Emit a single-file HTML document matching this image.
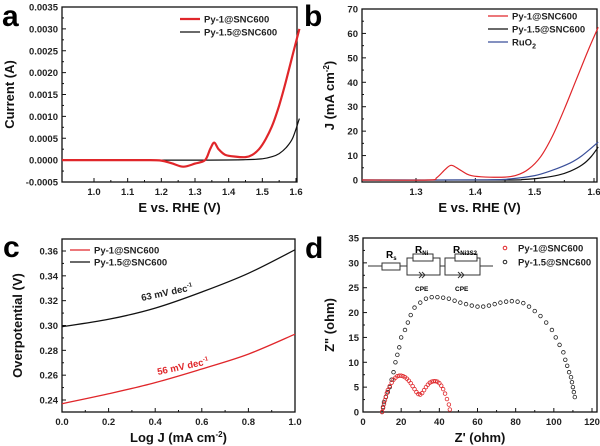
<!DOCTYPE html>
<html><head><meta charset="utf-8"><style>
html,body{margin:0;padding:0;background:#fff}
svg{display:block;font-family:"Liberation Sans",Arial,sans-serif}
.t{font-size:9.5px;font-weight:bold;fill:#222}
.at{font-size:13px;font-weight:bold;fill:#111}
.pl{font-size:30px;font-weight:bold;fill:#000}
.lg{font-size:9.5px;font-weight:bold;fill:#222}
</style></head><body>
<svg id="fig" width="600" height="446" viewBox="0 0 600 446"></svg>
<script>
// ---- Panel a data ----
const aRedE=[0.905,1.15,1.2,1.23,1.265,1.3,1.33,1.345,1.357,1.37,1.39,1.42,1.45,1.47,1.49,1.51,1.53,1.55,1.57,1.59,1.61];
const aRedI=[0,0,-0.00001,-0.00007,-0.00015,-0.00008,0,0.00025,0.0004,0.00025,0.00012,0.00008,0.00007,0.00012,0.00025,0.00048,0.0008,0.00125,0.0018,0.0024,0.003];
const aBlkE=[0.905,1.3,1.45,1.5,1.53,1.55,1.57,1.59,1.61];
const aBlkI=[0,0,0.00001,0.00003,0.00008,0.00015,0.00028,0.0005,0.00095];
// ---- Panel b data ----
const bRedE=[1.209,1.32,1.335,1.35,1.36,1.375,1.39,1.41,1.45,1.47,1.49,1.51,1.53,1.55,1.57,1.59,1.607];
const bRedJ=[0,0,1,4.5,6,4,2,1.3,1.2,2,4.5,9.5,18,29,41,53,62.5];
const bBlkE=[1.209,1.45,1.48,1.51,1.54,1.56,1.58,1.595,1.607];
const bBlkJ=[0,0,0.2,0.8,2,3.6,6.2,9.5,13.5];
const bBluE=[1.209,1.42,1.46,1.5,1.53,1.56,1.58,1.607];
const bBluJ=[0,0.1,0.5,1.8,4,7,10,15.5];
// ---- Panel c data ----
const cLogJ=[0,0.2,0.4,0.6,0.8,1.0];
const cBlk=[0.299,0.305,0.314,0.327,0.342,0.361];
const cRed=[0.237,0.245,0.254,0.265,0.277,0.293];
// ---- Panel d data ----
const dBlkX=[10,10.5,11,12,13,14,15,16,17,18,19,20,22,23.5,25,27,30,33,36,39,42,45,48,51,54,57,60,63,66,69,72,75,78,81,84,87,90,93,96,99,101,103,105,106,107,108,109,109.5,110,110.5,111];
const dBlkY=[0,1,2,3,4,5,6.5,8,10,11.5,13,15,16.5,18,19.5,21,22,22.8,23.1,23.1,23,22.8,22.4,22,21.7,21.4,21.2,21.2,21.4,21.7,22,22.2,22.3,22.2,21.9,21.2,20.3,19.3,18,16.5,15,13.5,12,10.5,9.3,8,7,6,5,4,3];
const dRedX=[10,10.5,11,11.5,12,12.5,13,14,15,16,17,18,19,20,21,22,23,24,25,26,27,28,29,30,31,32,33,34,35,36,37,38,39,40,41,42,43,44,45,45.5];
const dRedY=[0,0.8,1.6,2.4,3.1,3.8,4.4,5.2,5.9,6.5,6.9,7.2,7.3,7.3,7.2,7,6.7,6.3,5.8,5.2,4.6,4,3.6,3.5,3.8,4.4,5,5.5,5.9,6.1,6.2,6.2,6.1,5.8,5.3,4.6,3.7,2.6,1.5,0.5];
const aXT=[1.0,1.1,1.2,1.3,1.4,1.5,1.6],aYT=[-0.0005,0,0.0005,0.001,0.0015,0.002,0.0025,0.003,0.0035];
const aYL=["-0.0005","0.0000","0.0005","0.0010","0.0015","0.0020","0.0025","0.0030","0.0035"];
const bXT=[1.3,1.4,1.5,1.6],bYT=[0,10,20,30,40,50,60,70];
const cXT=[0,0.2,0.4,0.6,0.8,1.0],cYT=[0.24,0.26,0.28,0.30,0.32,0.34,0.36];
const dXT=[0,20,40,60,80,100,120],dYT=[0,5,10,15,20,25,30,35];

const S=document.getElementById('fig'),NS='http://www.w3.org/2000/svg';
function mk(tag,at,txt){const e=document.createElementNS(NS,tag);for(const k in at)e.setAttribute(k,at[k]);if(txt!==undefined)e.textContent=txt;S.appendChild(e);return e;}
function lin(d0,d1,r0,r1){return v=>r0+(v-d0)/(d1-d0)*(r1-r0);}
function path(xs,ys,X,Y){const p=xs.map((v,i)=>[X(v),Y(ys[i])]);let d='M'+p[0][0].toFixed(1)+','+p[0][1].toFixed(1);
  for(let i=0;i<p.length-1;i++){const p0=p[Math.max(i-1,0)],p1=p[i],p2=p[i+1],p3=p[Math.min(i+2,p.length-1)];
    const c1=[p1[0]+(p2[0]-p0[0])/6,p1[1]+(p2[1]-p0[1])/6],c2=[p2[0]-(p3[0]-p1[0])/6,p2[1]-(p3[1]-p1[1])/6];
    d+='C'+c1[0].toFixed(1)+','+c1[1].toFixed(1)+' '+c2[0].toFixed(1)+','+c2[1].toFixed(1)+' '+p2[0].toFixed(1)+','+p2[1].toFixed(1);}
  return d;}
function axes(p,L,T,R,B,X,Y,xt,xl,yt,yl,xtitle,ytitle,ytx){
  let e=mk('rect',{x:L,y:T,width:R-L,height:B-T,fill:'none',stroke:'#111','stroke-width':1.3});
  
  xt.forEach((v,i)=>{const x=X(v);mk('line',{x1:x,x2:x,y1:B,y2:B-4,stroke:'#111'});
    if(i<xt.length-1){const xm=(x+X(xt[i+1]))/2;mk('line',{x1:xm,x2:xm,y1:B,y2:B-2,stroke:'#111'});}
    e=mk('text',{x:x,y:B+13,class:'t','text-anchor':'middle'},xl[i]);});
  yt.forEach((v,i)=>{const y=Y(v);mk('line',{x1:L,x2:L+4,y1:y,y2:y,stroke:'#111'});
    if(i<yt.length-1){const ym=(y+Y(yt[i+1]))/2;mk('line',{x1:L,x2:L+2,y1:ym,y2:ym,stroke:'#111'});}
    e=mk('text',{x:L-4,y:y+3.5,class:'t','text-anchor':'end'},yl[i]);});
  e=mk('text',{x:(L+R)/2,y:B+30,class:'at','text-anchor':'middle'});e.innerHTML=xtitle;
  e=mk('text',{x:ytx,y:(T+B)/2,class:'at','text-anchor':'middle',transform:`rotate(-90 ${ytx} ${(T+B)/2})`});e.innerHTML=ytitle;
}
function line(p,n,d,c,w){const e=mk('path',{d:d,fill:'none',stroke:c,'stroke-width':w});}
function legL(p,x,y,c,w,txt){mk('line',{x1:x,x2:x+20,y1:y,y2:y,stroke:c,'stroke-width':w});const e=mk('text',{x:x+24,y:y+3.5,class:'lg'});e.innerHTML=txt;}
function lab(x,y,t){const e=mk('text',{x:x,y:y,class:'pl'},t);}

// Panel a
{const L=62,T=7,R=297,B=182,X=lin(1.0,1.6,94,296),Y=lin(-0.0005,0.0035,182,7);
 axes('a',L,T,R,B,X,Y,aXT,aXT.map(v=>v.toFixed(1)),aYT,aYL,'E vs. RHE (V)','Current (A)',14);
 line('a','py-1.5-curve',path(aBlkE,aBlkI,X,Y),'#111',1.2);
 line('a','py-1-curve',path(aRedE,aRedI,X,Y),'#e0262a',2.2);
 legL('a',180,19,'#e0262a',2.2,'Py-1@SNC600');legL('a',180,32,'#111',1.2,'Py-1.5@SNC600');lab(2,26,'a');}
// Panel b
{const L=362,T=9,R=597,B=182,X=lin(1.3,1.6,416,594),Y=lin(0,70,180,9);
 axes('b',L,T,R,B,X,Y,bXT,bXT.map(v=>v.toFixed(1)),bYT,bYT.map(String),'E vs. RHE (V)','J (mA cm<tspan dy="-5" font-size="8">-2</tspan><tspan dy="5">)</tspan>',334);
 line('b','py-1.5-curve',path(bBlkE,bBlkJ,X,Y),'#111',1.2);
 line('b','ruo2-curve',path(bBluE,bBluJ,X,Y),'#3a4f9a',1.2);
 line('b','py-1-curve',path(bRedE,bRedJ,X,Y),'#e0262a',1.2);
 legL('b',488,16,'#e0262a',1.2,'Py-1@SNC600');legL('b',488,29,'#111',1.2,'Py-1.5@SNC600');legL('b',488,42,'#3a4f9a',1.2,'RuO<tspan dy="3" font-size="7">2</tspan>');lab(304,26,'b');}
// Panel c
{const L=62,T=239,R=295,B=412,X=lin(0,1,62,295),Y=lin(0.24,0.36,400,251);
 axes('c',L,T,R,B,X,Y,cXT,cXT.map(v=>v.toFixed(1)),cYT,cYT.map(v=>v.toFixed(2)),'Log J (mA cm<tspan dy="-5" font-size="8">-2</tspan><tspan dy="5">)</tspan>','Overpotential (V)',22);
 line('c','py-1.5-curve',path(cLogJ,cBlk,X,Y),'#111',1.3);
 line('c','py-1-curve',path(cLogJ,cRed,X,Y),'#e0262a',1.3);
 legL('c',70,250,'#e0262a',1.3,'Py-1@SNC600');legL('c',70,262,'#111',1.3,'Py-1.5@SNC600');
 let e=mk('text',{x:142,y:301,class:'lg','font-size':'10',transform:'rotate(-12 142 301)'});e.innerHTML='63 mV dec<tspan dy="-4" font-size="6">-1</tspan>';
 e=mk('text',{x:158,y:375,class:'lg','font-size':'10',style:'fill:#e0262a',transform:'rotate(-12 158 375)'});e.innerHTML='56 mV dec<tspan dy="-4" font-size="6">-1</tspan>';
 lab(3,257,'c');}
// Panel d
{const L=363,T=238,R=597,B=412,X=lin(0,120,363,592),Y=lin(0,35,412,238);
 axes('d',L,T,R,B,X,Y,dXT,dXT.map(String),dYT,dYT.map(String),"Z' (ohm)",'Z" (ohm)',334);
 dBlkX.forEach((v,i)=>{const c=mk('circle',{cx:X(v),cy:Y(dBlkY[i]),r:1.8,fill:'none',stroke:'#222','stroke-width':0.8});});
 dRedX.forEach((v,i)=>{const c=mk('circle',{cx:X(v),cy:Y(dRedY[i]),r:1.8,fill:'none',stroke:'#e0262a','stroke-width':0.8});});
 mk('circle',{cx:505,cy:248,r:1.8,fill:'none',stroke:'#e0262a'});mk('circle',{cx:505,cy:262,r:1.8,fill:'none',stroke:'#222'});
 let e=mk('text',{x:518,y:251.5,class:'lg'},'Py-1@SNC600');
 e=mk('text',{x:518,y:265.5,class:'lg'},'Py-1.5@SNC600');
 const g='stroke:#333;stroke-width:1;fill:none';
 mk('path',{d:'M368,266H382M400,266H407M440,266H445M480,266H493',style:g});
 mk('rect',{x:382,y:263,width:18,height:7,style:g});
 mk('rect',{x:407,y:258,width:33,height:17,style:g});mk('rect',{x:413,y:254,width:20,height:7,style:g+';fill:#fff'});
 mk('rect',{x:445,y:258,width:35,height:17,style:g});mk('rect',{x:455,y:254,width:22,height:7,style:g+';fill:#fff'});
 mk('path',{d:'M419,272l3,3l-3,3M422,272l3,3l-3,3M458,272l3,3l-3,3M461,272l3,3l-3,3',style:g});
 mk('text',{x:386,y:258,'font-size':'10','font-weight':'bold'}).innerHTML='R<tspan dy="2" font-size="6">s</tspan>';
 mk('text',{x:415,y:253,'font-size':'10','font-weight':'bold'}).innerHTML='R<tspan dy="2" font-size="6">Ni</tspan>';
 mk('text',{x:453,y:253,'font-size':'10','font-weight':'bold'}).innerHTML='R<tspan dy="2" font-size="6">Ni3S2</tspan>';
 mk('text',{x:415,y:291,'font-size':'6.5','font-weight':'bold'},'CPE');mk('text',{x:455,y:291,'font-size':'6.5','font-weight':'bold'},'CPE');
 lab(305,258,'d');}
</script>
</body></html>
